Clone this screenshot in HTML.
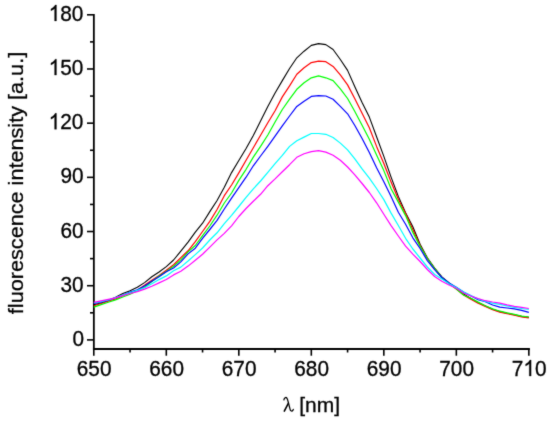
<!DOCTYPE html>
<html><head><meta charset="utf-8"><style>
html,body{margin:0;padding:0;background:#fff;width:550px;height:421px;overflow:hidden}
svg{display:block}
</style></head><body>
<svg width="550" height="421" viewBox="0 0 550 421">
<defs><filter id="bl" x="0" y="0" width="550" height="421" filterUnits="userSpaceOnUse" color-interpolation-filters="sRGB"><feConvolveMatrix order="3" kernelMatrix="1 4 1 4 32 4 1 4 1" divisor="52" edgeMode="duplicate"/></filter></defs>
<g filter="url(#bl)"><rect width="550" height="421" fill="#fff"/>
<g stroke="#000" fill="none">
<line x1="93.85" y1="13.9" x2="93.85" y2="350" stroke-width="1.8"/>
<line x1="92.95" y1="348.9" x2="529.9" y2="348.9" stroke-width="2"/>
<line x1="87.0" y1="339.90" x2="93" y2="339.90" stroke-width="1.6"/>
<line x1="90.0" y1="312.81" x2="93" y2="312.81" stroke-width="1.6"/>
<line x1="87.0" y1="285.72" x2="93" y2="285.72" stroke-width="1.6"/>
<line x1="90.0" y1="258.62" x2="93" y2="258.62" stroke-width="1.6"/>
<line x1="87.0" y1="231.53" x2="93" y2="231.53" stroke-width="1.6"/>
<line x1="90.0" y1="204.44" x2="93" y2="204.44" stroke-width="1.6"/>
<line x1="87.0" y1="177.35" x2="93" y2="177.35" stroke-width="1.6"/>
<line x1="90.0" y1="150.26" x2="93" y2="150.26" stroke-width="1.6"/>
<line x1="87.0" y1="123.17" x2="93" y2="123.17" stroke-width="1.6"/>
<line x1="90.0" y1="96.07" x2="93" y2="96.07" stroke-width="1.6"/>
<line x1="87.0" y1="68.98" x2="93" y2="68.98" stroke-width="1.6"/>
<line x1="90.0" y1="41.89" x2="93" y2="41.89" stroke-width="1.6"/>
<line x1="87.0" y1="14.80" x2="93" y2="14.80" stroke-width="1.6"/>
<line x1="93.80" y1="349" x2="93.80" y2="355.7" stroke-width="1.6"/>
<line x1="130.05" y1="349" x2="130.05" y2="352.5" stroke-width="1.6"/>
<line x1="166.31" y1="349" x2="166.31" y2="355.7" stroke-width="1.6"/>
<line x1="202.56" y1="349" x2="202.56" y2="352.5" stroke-width="1.6"/>
<line x1="238.82" y1="349" x2="238.82" y2="355.7" stroke-width="1.6"/>
<line x1="275.07" y1="349" x2="275.07" y2="352.5" stroke-width="1.6"/>
<line x1="311.32" y1="349" x2="311.32" y2="355.7" stroke-width="1.6"/>
<line x1="347.58" y1="349" x2="347.58" y2="352.5" stroke-width="1.6"/>
<line x1="383.83" y1="349" x2="383.83" y2="355.7" stroke-width="1.6"/>
<line x1="420.09" y1="349" x2="420.09" y2="352.5" stroke-width="1.6"/>
<line x1="456.34" y1="349" x2="456.34" y2="355.7" stroke-width="1.6"/>
<line x1="492.59" y1="349" x2="492.59" y2="352.5" stroke-width="1.6"/>
<line x1="528.85" y1="349" x2="528.85" y2="355.7" stroke-width="1.6"/>
</g>
<polyline points="93.80,304.80 101.05,303.06 108.30,300.60 115.55,297.20 122.80,293.60 130.05,290.70 137.30,287.20 144.56,282.60 151.81,276.80 159.06,272.00 166.31,266.60 173.56,260.00 180.81,251.20 188.06,242.10 195.31,232.10 202.56,223.20 209.81,211.60 217.06,200.50 224.31,187.20 231.57,172.60 238.82,160.50 246.07,148.50 253.32,135.50 260.57,121.00 267.82,106.50 275.07,93.00 282.32,80.60 289.57,68.50 296.82,57.80 304.07,51.20 311.32,45.40 318.57,43.60 325.83,44.60 333.08,49.50 340.33,59.50 347.58,70.40 354.83,86.70 362.08,102.60 369.33,117.10 376.58,136.70 383.83,156.40 391.08,177.10 398.33,196.40 405.58,212.80 412.84,226.70 420.09,244.20 427.34,257.80 434.59,268.10 441.84,276.90 449.09,283.00 456.34,288.20 463.59,294.00 470.84,298.50 478.09,302.50 485.34,305.90 492.59,309.30 499.84,311.60 507.10,313.20 514.35,314.70 521.60,316.40 528.85,317.40" fill="none" stroke="#000000" stroke-width="1.1" stroke-linejoin="round"/>
<polyline points="93.80,305.80 101.05,303.47 108.30,301.20 115.55,299.00 122.80,295.70 130.05,292.80 137.30,290.30 144.56,285.30 151.81,280.20 159.06,275.40 166.31,270.30 173.56,264.80 180.81,257.60 188.06,250.80 195.31,241.70 202.56,231.50 209.81,221.40 217.06,209.50 224.31,195.70 231.57,185.00 238.82,172.90 246.07,160.30 253.32,147.70 260.57,135.20 267.82,122.80 275.07,110.70 282.32,96.90 289.57,85.80 296.82,74.20 304.07,67.80 311.32,62.60 318.57,61.20 325.83,61.70 333.08,66.40 340.33,74.90 347.58,84.90 354.83,98.80 362.08,113.30 369.33,127.80 376.58,146.40 383.83,163.50 391.08,182.10 398.33,199.20 405.58,213.50 412.84,229.50 420.09,245.60 427.34,258.50 434.59,268.50 441.84,277.50 449.09,283.50 456.34,289.00 463.59,295.00 470.84,299.30 478.09,303.20 485.34,306.40 492.59,309.80 499.84,312.20 507.10,313.60 514.35,315.20 521.60,316.80 528.85,317.90" fill="none" stroke="#ff0000" stroke-width="1.2" stroke-linejoin="round"/>
<polyline points="93.80,307.10 101.05,304.60 108.30,302.20 115.55,299.90 122.80,297.00 130.05,294.20 137.30,290.60 144.56,287.30 151.81,281.50 159.06,276.00 166.31,271.40 173.56,266.20 180.81,259.90 188.06,251.90 195.31,245.50 202.56,235.60 209.81,226.00 217.06,215.20 224.31,203.00 231.57,193.00 238.82,180.40 246.07,169.30 253.32,157.10 260.57,146.40 267.82,135.00 275.07,122.00 282.32,109.50 289.57,99.20 296.82,89.30 304.07,82.80 311.32,77.80 318.57,75.90 325.83,77.80 333.08,80.60 340.33,88.90 347.58,98.50 354.83,111.50 362.08,125.20 369.33,139.20 376.58,155.00 383.83,170.60 391.08,188.80 398.33,202.10 405.58,215.60 412.84,232.40 420.09,246.40 427.34,258.50 434.59,268.50 441.84,277.50 449.09,283.50 456.34,289.00 463.59,295.00 470.84,298.20 478.09,302.10 485.34,305.70 492.59,308.90 499.84,311.20 507.10,312.90 514.35,314.30 521.60,316.10 528.85,317.00" fill="none" stroke="#00ff00" stroke-width="1.2" stroke-linejoin="round"/>
<polyline points="93.80,303.50 101.05,302.06 108.30,300.20 115.55,297.78 122.80,295.00 130.05,292.10 137.30,289.70 144.56,286.00 151.81,281.20 159.06,276.80 166.31,271.80 173.56,268.00 180.81,261.90 188.06,253.90 195.31,248.20 202.56,238.40 209.81,229.50 217.06,220.40 224.31,209.00 231.57,198.10 238.82,187.60 246.07,177.20 253.32,165.80 260.57,156.00 267.82,146.30 275.07,136.20 282.32,125.80 289.57,116.00 296.82,106.40 304.07,101.20 311.32,96.40 318.57,95.60 325.83,96.00 333.08,99.30 340.33,106.40 347.58,113.80 354.83,125.50 362.08,138.50 369.33,152.50 376.58,167.80 383.83,181.70 391.08,196.60 398.33,212.30 405.58,224.20 412.84,237.80 420.09,248.50 427.34,260.60 434.59,269.60 441.84,277.50 449.09,283.00 456.34,287.30 463.59,292.00 470.84,295.70 478.09,299.60 485.34,301.70 492.59,305.00 499.84,307.10 507.10,308.00 514.35,308.80 521.60,310.40 528.85,312.30" fill="none" stroke="#0000ff" stroke-width="1.2" stroke-linejoin="round"/>
<polyline points="93.80,303.00 101.05,301.72 108.30,300.00 115.55,297.66 122.80,295.00 130.05,292.50 137.30,290.40 144.56,287.70 151.81,283.80 159.06,279.60 166.31,275.90 173.56,270.70 180.81,267.10 188.06,261.00 195.31,254.60 202.56,248.00 209.81,240.00 217.06,232.80 224.31,223.70 231.57,215.30 238.82,206.50 246.07,197.30 253.32,188.90 260.57,181.00 267.82,172.30 275.07,163.60 282.32,155.40 289.57,146.40 296.82,140.70 304.07,137.10 311.32,133.50 318.57,133.50 325.83,134.30 333.08,137.50 340.33,143.10 347.58,149.90 354.83,158.80 362.08,168.90 369.33,178.10 376.58,188.50 383.83,199.60 391.08,213.10 398.33,225.50 405.58,238.30 412.84,249.00 420.09,258.00 427.34,267.00 434.59,274.50 441.84,279.10 449.09,283.70 456.34,287.60 463.59,292.00 470.84,295.50 478.09,299.00 485.34,301.50 492.59,303.10 499.84,304.30 507.10,305.80 514.35,307.40 521.60,308.50 528.85,309.50" fill="none" stroke="#00ffff" stroke-width="1.2" stroke-linejoin="round"/>
<polyline points="93.80,302.30 101.05,300.80 108.30,299.30 115.55,297.80 122.80,295.70 130.05,293.50 137.30,291.60 144.56,289.10 151.81,286.20 159.06,282.90 166.31,279.50 173.56,274.90 180.81,271.30 188.06,266.10 195.31,260.20 202.56,254.30 209.81,247.10 217.06,239.90 224.31,233.40 231.57,225.80 238.82,216.50 246.07,208.50 253.32,201.30 260.57,194.30 267.82,185.70 275.07,178.90 282.32,171.70 289.57,164.70 296.82,157.30 304.07,153.80 311.32,151.60 318.57,150.60 325.83,152.10 333.08,155.20 340.33,160.20 347.58,167.00 354.83,174.90 362.08,183.50 369.33,192.50 376.58,202.80 383.83,214.20 391.08,225.60 398.33,236.00 405.58,246.10 412.84,254.20 420.09,261.50 427.34,269.50 434.59,276.50 441.84,281.20 449.09,285.00 456.34,288.20 463.59,293.00 470.84,296.00 478.09,298.50 485.34,300.70 492.59,302.00 499.84,303.10 507.10,304.80 514.35,306.30 521.60,307.40 528.85,308.50" fill="none" stroke="#ff00ff" stroke-width="1.2" stroke-linejoin="round"/>
<g font-family="Liberation Sans, sans-serif" font-size="20.8" fill="#000" stroke="#000" stroke-width="0.3">
<g transform="translate(72.56,346.00) scale(1,1.07)"><text x="0.00" y="0">0</text></g>
<g transform="translate(60.38,291.82) scale(1,1.07)"><text x="0.00" y="0">3</text><text x="11.57" y="0">0</text></g>
<g transform="translate(60.38,237.63) scale(1,1.07)"><text x="0.00" y="0">6</text><text x="11.57" y="0">0</text></g>
<g transform="translate(60.38,183.45) scale(1,1.07)"><text x="0.00" y="0">9</text><text x="11.57" y="0">0</text></g>
<g transform="translate(48.69,129.27) scale(1,1.07)"><path transform="translate(0.00,0) scale(0.010156,-0.010156)" stroke-width="29.5" d="M763 0L583 0L583 1147C540 1106 483 1064 412 1023C341 982 278 951 223 930L223 1104C324 1151 412 1208 487 1274C562 1340 614 1404 643 1466L763 1466Z"/><text x="11.57" y="0">2</text><text x="23.14" y="0">0</text></g>
<g transform="translate(48.69,75.08) scale(1,1.07)"><path transform="translate(0.00,0) scale(0.010156,-0.010156)" stroke-width="29.5" d="M763 0L583 0L583 1147C540 1106 483 1064 412 1023C341 982 278 951 223 930L223 1104C324 1151 412 1208 487 1274C562 1340 614 1404 643 1466L763 1466Z"/><text x="11.57" y="0">5</text><text x="23.14" y="0">0</text></g>
<g transform="translate(48.69,20.90) scale(1,1.07)"><path transform="translate(0.00,0) scale(0.010156,-0.010156)" stroke-width="29.5" d="M763 0L583 0L583 1147C540 1106 483 1064 412 1023C341 982 278 951 223 930L223 1104C324 1151 412 1208 487 1274C562 1340 614 1404 643 1466L763 1466Z"/><text x="11.57" y="0">8</text><text x="23.14" y="0">0</text></g>
<g transform="translate(76.75,376.00) scale(1,1.07)"><text x="0.00" y="0">6</text><text x="11.57" y="0">5</text><text x="23.14" y="0">0</text></g>
<g transform="translate(149.26,376.00) scale(1,1.07)"><text x="0.00" y="0">6</text><text x="11.57" y="0">6</text><text x="23.14" y="0">0</text></g>
<g transform="translate(221.76,376.00) scale(1,1.07)"><text x="0.00" y="0">6</text><text x="11.57" y="0">7</text><text x="23.14" y="0">0</text></g>
<g transform="translate(294.27,376.00) scale(1,1.07)"><text x="0.00" y="0">6</text><text x="11.57" y="0">8</text><text x="23.14" y="0">0</text></g>
<g transform="translate(366.78,376.00) scale(1,1.07)"><text x="0.00" y="0">6</text><text x="11.57" y="0">9</text><text x="23.14" y="0">0</text></g>
<g transform="translate(439.29,376.00) scale(1,1.07)"><text x="0.00" y="0">7</text><text x="11.57" y="0">0</text><text x="23.14" y="0">0</text></g>
<g transform="translate(511.80,376.00) scale(1,1.07)"><text x="0.00" y="0">7</text><path transform="translate(11.57,0) scale(0.010156,-0.010156)" stroke-width="29.5" d="M763 0L583 0L583 1147C540 1106 483 1064 412 1023C341 982 278 951 223 930L223 1104C324 1151 412 1208 487 1274C562 1340 614 1404 643 1466L763 1466Z"/><text x="23.14" y="0">0</text></g>
</g>
<g fill="none" stroke="#000" stroke-linecap="round" stroke-linejoin="round"><path d="M283.9,399.9 C284.2,397.8 285.9,396.8 286.9,398.1 C287.6,399.1 288.0,401.0 288.6,403.5 L290.1,409.3 C290.5,410.8 291.4,411.4 292.3,410.9 C292.8,410.6 293.1,410.0 293.3,409.3" stroke-width="1.25"/><path d="M288.3,403.4 L284.3,411.1" stroke-width="1.6"/></g>
<g transform="translate(293.4,412.0) scale(1,0.967)"><text x="0" y="0" font-family="Liberation Sans, sans-serif" font-size="21" fill="#000" stroke="#000" stroke-width="0.3" xml:space="preserve"> [nm]</text></g>
<text transform="translate(23.0,183.0) rotate(-90) scale(1.042,0.98)" text-anchor="middle" font-family="Liberation Sans, sans-serif" font-size="20.8" fill="#000" stroke="#000" stroke-width="0.3">fluorescence intensity [a.u.]</text>
</g>
</svg>
</body></html>
